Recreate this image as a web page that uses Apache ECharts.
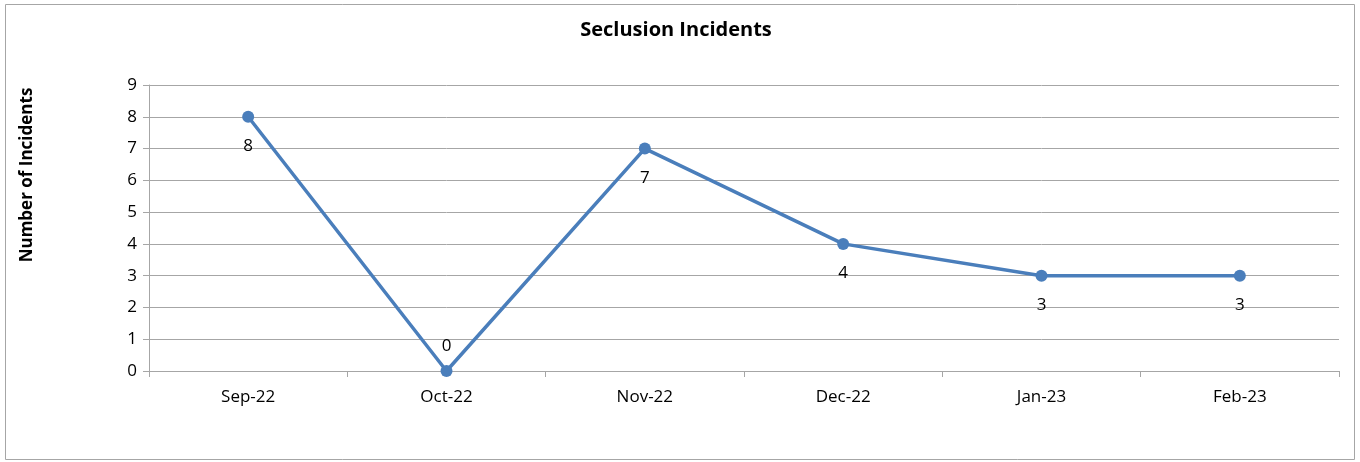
<!DOCTYPE html>
<html>
<head>
<meta charset="utf-8">
<script src="https://cdn.jsdelivr.net/npm/echarts@6/dist/echarts.min.js"></script>
<style>
html,body{margin:0;padding:0;background:#fff;}
#chart{width:1360px;height:462px;}
</style>
</head>
<body>
<div id="chart"></div>
<script>
const categories = ['Sep-22','Oct-22','Nov-22','Dec-22','Jan-23','Feb-23'];
const incidents = [8, 0, 7, 4, 3, 3];
const labelAbove = [false, true, false, false, false, false];

const FONT = '"Open Sans", "Liberation Sans", sans-serif';
const chart = echarts.init(document.getElementById('chart'));
chart.setOption({
  backgroundColor: '#fff',
  animation: false,
  title: {
    text: 'Seclusion Incidents',
    left: 671, textAlign: 'center', top: 15,
    textStyle: {fontFamily: FONT, fontSize: 20, fontWeight: 'bold', color: '#000'}
  },
  graphic: [
    {type: 'rect', shape: {x: 5.5, y: 4.5, width: 1349, height: 455},
     style: {fill: 'none', stroke: '#a6a6a6', lineWidth: 1}, silent: true},
    {type: 'text', x: 27, y: 175, rotation: Math.PI / 2,
     style: {text: 'Number of Incidents', fontFamily: FONT, fontSize: 17, fontWeight: 'bold',
             fill: '#000', textAlign: 'center', textVerticalAlign: 'middle'}}
  ],
  grid: {left: 149, right: 21, top: 85, bottom: 91, containLabel: false},
  xAxis: {
    type: 'category', data: categories, boundaryGap: true,
    axisLine: {lineStyle: {color: '#a6a6a6', width: 1}},
    axisTick: {show: true, length: 6, lineStyle: {color: '#a6a6a6'}},
    axisLabel: {fontFamily: FONT, fontSize: 17, color: '#000', margin: 18}
  },
  yAxis: {
    type: 'value', min: 0, max: 9, interval: 1,
    axisLine: {show: true, lineStyle: {color: '#a6a6a6', width: 1}},
    axisTick: {show: true, length: 6, lineStyle: {color: '#a6a6a6'}},
    axisLabel: {fontFamily: FONT, fontSize: 17, color: '#000', margin: 12},
    splitLine: {lineStyle: {color: '#a6a6a6', width: 1}}
  },
  series: [{
    type: 'line',
    data: incidents.map((v, i) => ({
      value: v,
      label: {position: labelAbove[i] ? 'top' : 'bottom', distance: labelAbove[i] ? 10 : 15}
    })),
    color: '#4a7ebb',
    lineStyle: {width: 3.5, color: '#4a7ebb'},
    symbol: 'circle', symbolSize: 12,
    itemStyle: {color: '#4a7ebb'},
    label: {show: true, fontFamily: FONT, fontSize: 17, color: '#000'}
  }]
});
</script>
</body>
</html>
